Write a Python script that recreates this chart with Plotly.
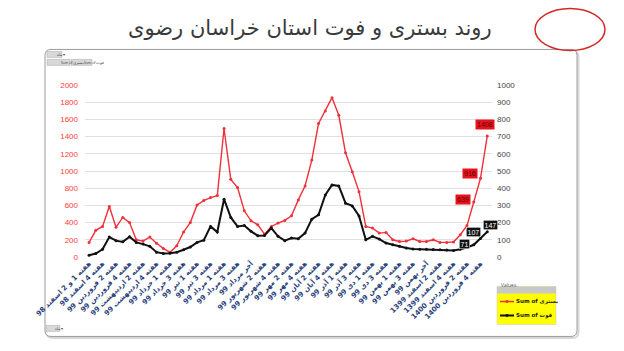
import plotly.graph_objects as go

# ---------------- data ----------------
weeks = [
    "هفته 1 و 2 اسفند 98", "هفته 3 اسفند 98", "هفته 4 اسفند 98",
    "هفته 1 فروردین 99", "هفته 2 فروردین 99", "هفته 3 فروردین 99", "هفته 4 فروردین 99",
    "هفته 1 اردیبهشت 99", "هفته 2 اردیبهشت 99", "هفته 3 اردیبهشت 99", "هفته 4 اردیبهشت 99",
    "آخر اردیبهشت 99",
    "هفته 1 خرداد 99", "هفته 2 خرداد 99", "هفته 3 خرداد 99", "هفته 4 خرداد 99",
    "هفته 1 تیر 99", "هفته 2 تیر 99", "هفته 3 تیر 99", "هفته 4 تیر 99",
    "هفته 1 مرداد 99", "هفته 2 مرداد 99", "هفته 3 مرداد 99", "هفته 4 مرداد 99",
    "آخر مرداد 99",
    "هفته 1 شهریور 99", "هفته 2 شهریور 99", "هفته 3 شهریور 99", "هفته 4 شهریور 99",
    "هفته 1 مهر 99", "هفته 2 مهر 99", "هفته 3 مهر 99", "هفته 4 مهر 99",
    "هفته 1 آبان 99", "هفته 2 آبان 99", "هفته 3 آبان 99", "هفته 4 آبان 99",
    "آخر آبان 99",
    "هفته 1 آذر 99", "هفته 2 آذر 99", "هفته 3 آذر 99", "هفته 4 آذر 99",
    "هفته 1 دی 99", "هفته 2 دی 99", "هفته 3 دی 99", "هفته 4 دی 99",
    "هفته 1 بهمن 99", "هفته 2 بهمن 99", "هفته 3 بهمن 99", "هفته 4 بهمن 99",
    "آخر بهمن 99",
    "هفته 1 اسفند 1399", "هفته 2 اسفند 1399", "هفته 3 اسفند 1399", "هفته 4 اسفند 1399",
    "هفته 1 فروردین 1400", "هفته 2 فروردین 1400", "هفته 3 فروردین 1400", "هفته 4 فروردین 1400",
    "هفته 1 اردیبهشت 1400",
]

hospitalized = [
    170, 310, 355, 587, 347, 460, 400, 200, 185, 232,
    160, 100, 55, 130, 290, 400, 606, 656, 691, 714,
    1494, 903, 807, 537, 421, 374, 265, 355, 394, 425,
    479, 664, 826, 1127, 1552, 1698, 1853, 1648, 1212, 992,
    760, 355, 336, 278, 286, 200, 181, 185, 212, 181,
    181, 200, 170, 170, 175, 259, 367, 639, 916, 1408,
]

deaths = [
    10, 20, 45, 116, 95, 88, 118, 85, 75, 62,
    28, 20, 22, 28, 42, 58, 85, 98, 178, 145,
    336, 230, 178, 183, 149, 124, 125, 168, 120, 95,
    110, 106, 139, 220, 245, 361, 419, 413, 313, 297,
    239, 100, 120, 104, 81, 71, 62, 52, 46, 45,
    45, 44, 42, 40, 38, 45, 55, 71, 107, 147,
]

left_ticks = list(range(0, 2001, 200))
right_ticks = list(range(0, 1001, 100))
tick_weeks = weeks[0:59:2]
labelled = [57, 58, 59]

title_text = "روند بستری و فوت استان خراسان رضوی"
name_h = "Sum of بستری"
name_d = "Sum of فوت"

# ---------------- layout helpers ----------------
W, H = 624, 351
L, R, T, B = 85, 492, 84.7, 257.3


def px(x):
    return (x - L) / (R - L)


def py(y):
    return (B - y) / (B - T)


RED = "#f0303a"
BLK = "#111111"
fig = go.Figure()
fig.add_trace(go.Scatter(
    x=weeks, y=hospitalized, name=name_h, mode="lines+markers",
    line=dict(color=RED, width=1.4), marker=dict(size=3, color=RED),
    yaxis="y"))
fig.add_trace(go.Scatter(
    x=weeks, y=deaths, name=name_d, mode="lines+markers",
    line=dict(color=BLK, width=2), marker=dict(size=3, color=BLK),
    yaxis="y2"))

annotations = []
red_off = {57: (-11, 3), 58: (-11, 5), 59: (-2, 11)}
blk_off = {57: (-9, 1), 58: (-7, 7), 59: (3, 7)}
for i in labelled:
    annotations.append(dict(
        x=weeks[i], y=hospitalized[i], xref="x", yref="y", text=str(hospitalized[i]),
        showarrow=False, xshift=red_off[i][0], yshift=red_off[i][1],
        bgcolor="#e8121c", font=dict(size=7, color="#5a0000", family="Arial"),
        borderpad=1))
    annotations.append(dict(
        x=weeks[i], y=deaths[i], xref="x", yref="y2", text=str(deaths[i]),
        showarrow=False, xshift=blk_off[i][0], yshift=blk_off[i][1],
        bgcolor=BLK, font=dict(size=7, color="#ffffff", family="Arial"),
        bordercolor="#ffffff", borderwidth=0.5, borderpad=1))

annotations.append(dict(
    x=px(310), y=py(28), xref="paper", yref="paper", text=title_text,
    showarrow=False, font=dict(size=21, color="#3a3a3a", family="DejaVu Sans"),
    xanchor="center", yanchor="middle"))

shapes = []

# frame with rounded corners
fx0, fy0, fx1, fy1, rr = 45, 49, 577, 337, 6


def frame_path(x0, y0, x1, y1, r):
    return (f"M {px(x0 + r)} {py(y0)} L {px(x1 - r)} {py(y0)} "
            f"Q {px(x1)} {py(y0)} {px(x1)} {py(y0 + r)} "
            f"L {px(x1)} {py(y1 - r)} Q {px(x1)} {py(y1)} {px(x1 - r)} {py(y1)} "
            f"L {px(x0 + r)} {py(y1)} Q {px(x0)} {py(y1)} {px(x0)} {py(y1 - r)} "
            f"L {px(x0)} {py(y0 + r)} Q {px(x0)} {py(y0)} {px(x0 + r)} {py(y0)} Z")


shapes.append(dict(type="path", xref="paper", yref="paper",
                   path=frame_path(fx0 + 1.5, fy0 + 1.5, fx1 + 1.5, fy1 + 1.5, rr),
                   line=dict(color="#d8d8d8", width=2), layer="below"))
shapes.append(dict(type="path", xref="paper", yref="paper",
                   path=frame_path(fx0, fy0, fx1, fy1, rr),
                   fillcolor="#ffffff", line=dict(color="#9a9a9a", width=1), layer="below"))

# small pivot buttons
btns = [
    (47, 51, 62, 57, "ماه ▾"),
    (47, 59, 70, 65, "Sum of بستری"),
    (71, 59, 92, 65, "Sum of فوت"),
    (46, 326, 60, 332, "ماه ▾"),
]
for x0, y0, x1, y1, t in btns:
    shapes.append(dict(type="rect", xref="paper", yref="paper",
                       x0=px(x0), x1=px(x1), y0=py(y1), y1=py(y0),
                       fillcolor="#d8d8d8", line=dict(color="#a8a8a8", width=0.5)))
    annotations.append(dict(x=px((x0 + x1) / 2), y=py((y0 + y1) / 2), xref="paper", yref="paper",
                            text=t, showarrow=False, yanchor="middle",
                            font=dict(size=3.5, color="#444444")))

# red ellipse at top right
shapes.append(dict(type="circle", xref="paper", yref="paper",
                   x0=px(535), x1=px(605), y0=py(50), y1=py(8),
                   line=dict(color="#d42a2a", width=1.5)))

# legend box (drawn manually)
shapes.append(dict(type="rect", xref="paper", yref="paper",
                   x0=px(497), x1=px(556), y0=py(325), y1=py(287),
                   fillcolor="#ffff00", line=dict(color="#c8c8c8", width=0.5)))
shapes.append(dict(type="rect", xref="paper", yref="paper",
                   x0=px(497), x1=px(556), y0=py(294), y1=py(287),
                   fillcolor="#c8c8c8", line=dict(width=0)))
annotations.append(dict(x=px(499), y=py(290.5), xref="paper", yref="paper", text="Values",
                        showarrow=False, xanchor="left", font=dict(size=5, color="#555555")))
for (yy, col, nm) in [(302, RED, name_h), (316, BLK, name_d)]:
    shapes.append(dict(type="line", xref="paper", yref="paper",
                       x0=px(500), x1=px(514), y0=py(yy), y1=py(yy),
                       line=dict(color=col, width=2 if col == BLK else 1.5)))
    shapes.append(dict(type="circle", xref="paper", yref="paper",
                       x0=px(505.5), x1=px(508.5), y0=py(yy + 1.5), y1=py(yy - 1.5),
                       fillcolor=col, line=dict(width=0)))
    annotations.append(dict(x=px(514), y=py(yy), xref="paper", yref="paper", text="<b>" + nm + "</b>",
                            showarrow=False, xanchor="left", yanchor="middle",
                            font=dict(size=5.5, color="#1a1a1a", family="DejaVu Sans")))

fig.update_layout(
    width=W, height=H, autosize=False,
    margin=dict(l=L, r=W - R, t=T, b=H - B, pad=0),
    paper_bgcolor="rgba(0,0,0,0)", plot_bgcolor="rgba(0,0,0,0)",
    showlegend=False,
    xaxis=dict(type="category", range=[-0.6, 59.7], tickmode="array",
               tickvals=tick_weeks, ticktext=tick_weeks, tickangle=-45,
               tickfont=dict(size=7, color="#2a3f7a", family="DejaVu Sans", weight="bold"),
               showgrid=False, showline=False, ticks="", zeroline=False),
    yaxis=dict(range=[0, 2000], tickvals=left_ticks, showgrid=True, gridcolor="#e0e0e0",
               gridwidth=1, zeroline=False, tickfont=dict(size=8, color="#ff3b3b", family="Arial"),
               ticks="", ticklabelstandoff=6),
    yaxis2=dict(range=[0, 1000], tickvals=right_ticks, overlaying="y", side="right",
                showgrid=False, zeroline=False, tickfont=dict(size=8, color="#444444", family="Arial"),
                ticks="", ticklabelstandoff=4),
    annotations=annotations, shapes=shapes,
)

fig.write_html("out.html")
